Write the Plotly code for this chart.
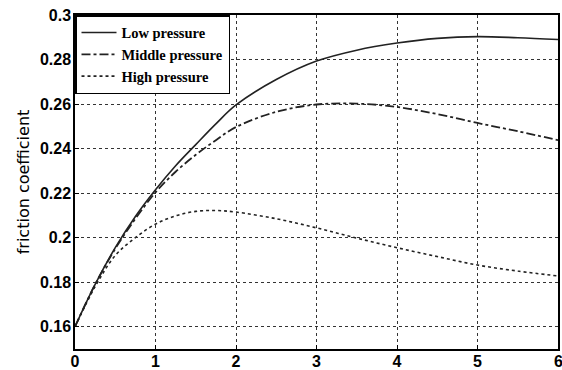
import plotly.graph_objects as go

x_vals = [0, 0.25, 0.5, 0.75, 1, 1.25, 1.5, 1.75, 2, 2.5, 3, 3.5, 4, 4.5, 5, 5.5, 6]
low_pressure = [0.160, 0.179, 0.1955, 0.2095, 0.2215, 0.2323, 0.2418, 0.2511, 0.2596, 0.271, 0.2793, 0.2842, 0.2874, 0.2895, 0.2903, 0.2898, 0.289]
middle_pressure = [0.160, 0.179, 0.195, 0.2085, 0.2203, 0.2296, 0.2372, 0.2438, 0.2497, 0.2565, 0.2598, 0.2602, 0.2587, 0.2555, 0.2515, 0.2478, 0.2438]
high_pressure = [0.160, 0.178, 0.192, 0.2, 0.2061, 0.2098, 0.2118, 0.2122, 0.2115, 0.2085, 0.2044, 0.1998, 0.1955, 0.1915, 0.1877, 0.185, 0.1828]
series_names = ["Low pressure", "Middle pressure", "High pressure"]
x_ticks = [0, 1, 2, 3, 4, 5, 6]
y_ticks = [0.16, 0.18, 0.2, 0.22, 0.24, 0.26, 0.28, 0.3]

fig = go.Figure()
styles = [("solid", 1.6), ("dashdot", 1.8), ("dot", 1.6)]
for name, ys, (dash, w) in zip(series_names, [low_pressure, middle_pressure, high_pressure], styles):
    fig.add_trace(go.Scatter(x=x_vals, y=ys, mode="lines", name=name,
                             line=dict(color="#222", width=w, dash=dash, shape="spline", smoothing=1.0)))

tick_font = dict(family="Liberation Sans", size=16, color="black", weight="bold")
axis_common = dict(showline=True, linecolor="black", linewidth=1.5, mirror=True,
                   showgrid=True, gridcolor="#333", griddash="dot", gridwidth=1,
                   ticks="inside", ticklen=4, tickcolor="black", zeroline=False,
                   ticklabeloverflow="allow", tickfont=tick_font)

# last x label sits on the page edge; drawn as an annotation so it is not dropped
x_ticktext = [str(v) for v in x_ticks[:-1]] + [""]
fig.update_xaxes(range=[0, 6], tickvals=x_ticks, ticktext=x_ticktext,
                 ticklabelstandoff=-3, **axis_common)
fig.add_annotation(x=x_ticks[-1], xref="x", y=0, yref="paper", yanchor="top", yshift=-2,
                   text=str(x_ticks[-1]), showarrow=False, font=tick_font)
fig.update_yaxes(range=[0.15, 0.3], tickvals=y_ticks, ticktext=[f"{v:g}" for v in y_ticks],
                 ticklabelstandoff=-1,
                 title=dict(text="friction coefficient", font=dict(family="DejaVu Sans", size=16, color="black"), standoff=6),
                 **axis_common)

fig.update_layout(
    width=562, height=370,
    margin=dict(l=75, r=4, t=15, b=21, autoexpand=False),
    paper_bgcolor="white", plot_bgcolor="white",
    legend=dict(x=0, y=1, xanchor="left", yanchor="top", bgcolor="white",
                bordercolor="black", borderwidth=1.5,
                font=dict(family="Liberation Serif", size=14.5, color="black", weight="bold"),
                tracegroupgap=0, itemwidth=35),
    showlegend=True,
)

fig.write_html("out.html",
               config={"displayModeBar": False},
               post_script="document.body.style.margin='0';document.body.style.overflow='hidden';"
                           "document.documentElement.style.overflow='hidden';")
